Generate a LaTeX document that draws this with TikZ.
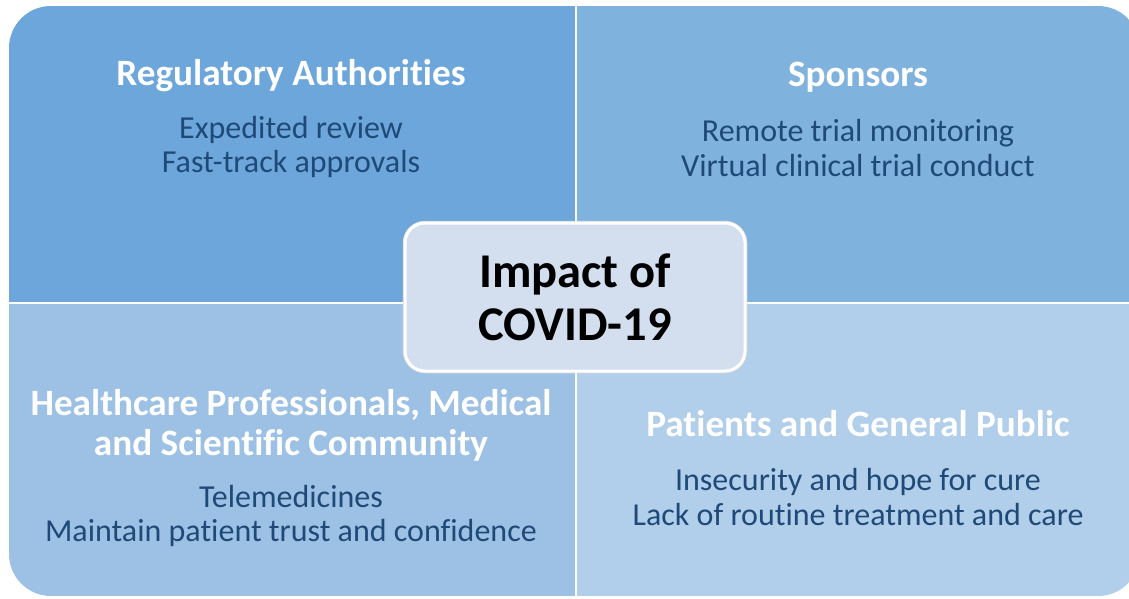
\documentclass[tikz,border=0pt]{standalone}
\usepackage{fontspec}
\setmainfont{Carlito}[Ligatures=NoCommon]
\definecolor{quadA}{HTML}{6CA6DA}
\definecolor{quadB}{HTML}{80B2DE}
\definecolor{quadC}{HTML}{9DC1E5}
\definecolor{quadD}{HTML}{B1CEEA}
\definecolor{hubfill}{HTML}{D3DEEF}
\definecolor{bodytext}{HTML}{1F4A78}
\begin{document}
\begin{tikzpicture}[x=1pt,y=-1pt,
	head/.style={text=white,font=\bfseries\fontsize{37.2}{40}\selectfont,align=center},
	body/.style={text=bodytext,font=\fontsize{32}{34.5}\selectfont,align=center},
	hub/.style={fill=hubfill,draw=white,line width=3,rounded corners=20,
		preaction={draw=black!15,line width=4.5},
		minimum width=340,minimum height=148,
		font=\bfseries\fontsize{48.5}{53}\selectfont,align=center}]
			\useasboundingbox (0,0) rectangle (1129,598);
			\begin{scope}
			\clip[rounded corners=42] (9,6) rectangle (1140,596);
			\fill[quadA] (9,6) rectangle (575,302);
			\fill[quadB] (577,6) rectangle (1140,302);
			\fill[quadC] (9,304) rectangle (575,596);
			\fill[quadD] (577,304) rectangle (1140,596);
			\end{scope}
			\draw
			(291,76) node[head](regtitle){Regulatory Authorities}
			(291,147) node[body](regtext){Expedited review\\Fast-track approvals}
			(858,77) node[head](spontitle){Sponsors}
			(858,148) node[body](spontext){Remote trial monitoring\\Virtual clinical trial conduct}
			(291,425) node[head](hcptitle){Healthcare Professionals, Medical\\and Scientific Community}
			(291,516) node[body](hcptext){Telemedicines\\Maintain patient trust and confidence}
			(858,424) node[head](pubtitle){Patients and General Public}
			(858,497) node[body](pubtext){Insecurity and hope for cure\\Lack of routine treatment and care};
			\node[hub] (impact) at (575,297) {Impact of\\COVID-19};
		\end{tikzpicture}
\end{document}
